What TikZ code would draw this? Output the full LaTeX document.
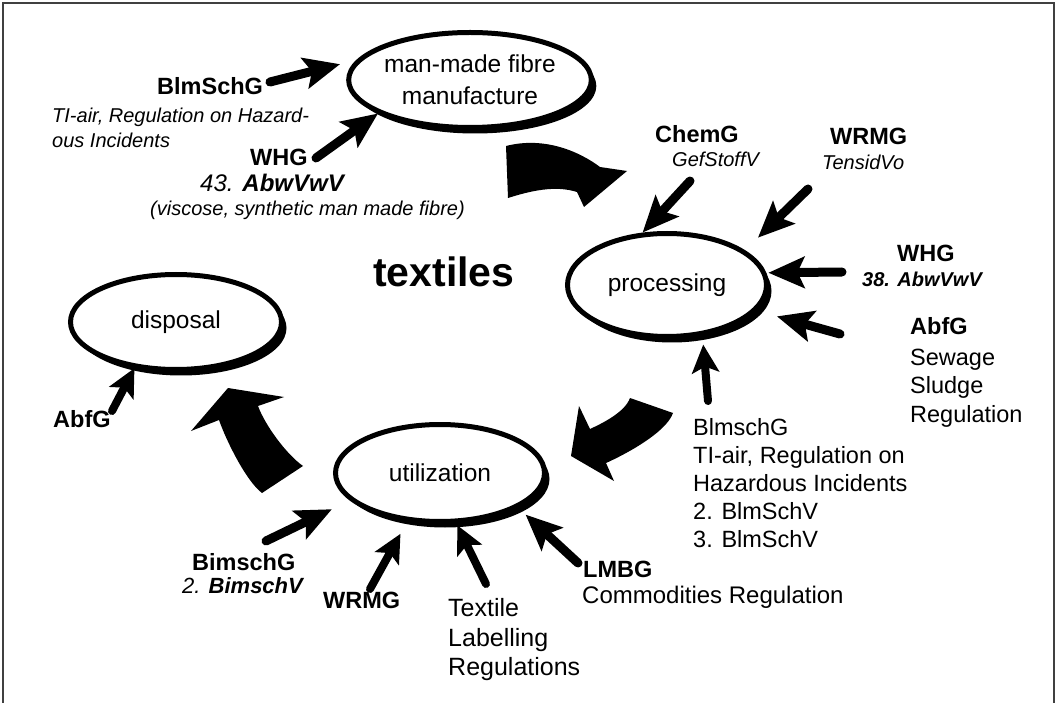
\documentclass[tikz,border=0pt]{standalone}
\usepackage{fontspec}
\setmainfont{Liberation Sans}
\usetikzlibrary{arrows.meta,shapes.geometric,shadows}
\begin{document}
\begin{tikzpicture}[x=1pt,y=-1pt,
  stage/.style={ellipse, draw=black, line width=5pt, fill=white, inner sep=0pt,
    align=center, font=\fontsize{24.5}{32}\selectfont,
    drop shadow={opacity=1, fill=black, shadow xshift=5pt, shadow yshift=-6pt}},
  law/.style={inner sep=0pt, anchor=base west, font=\fontsize{23.5}{28}\selectfont\bfseries},
  note/.style={inner sep=0pt, anchor=base west, font=\fontsize{20}{25}\selectfont\itshape},
  plain/.style={inner sep=0pt, anchor=base west, font=\fontsize{23.5}{28}\selectfont},
  reg/.style={line width=9pt, line cap=round, -{Stealth[length=36pt,width=31pt,inset=7pt]}},
  short reg/.style={line width=8pt, line cap=round, -{Stealth[length=28pt,width=27pt,inset=6pt]}},
  flow/.style={fill=black}
]
\useasboundingbox (0,0) rectangle (1058,703);
% frame, open at the bottom
\draw[line width=1.3pt, black!75] (3,703) -- (3,3) -- (1054,3) -- (1054,703);

% life-cycle stages
\node[stage, minimum width=229pt, minimum height=95pt] (pm) at (470,80) {man-made fibre\\manufacture};
\node[stage, minimum width=199pt, minimum height=103pt] (proc) at (667,285) {processing};
\node[stage, minimum width=209pt, minimum height=97pt] (util) at (440,473) {utilization};
\node[stage, minimum width=211pt, minimum height=95pt] (disp) at (176,322) {disposal};

\node[inner sep=0pt, anchor=base west, font=\fontsize{41}{48}\selectfont\bfseries] (title) at (373,287) {textiles};

% big curved flow arrows between the stages
\fill[flow] (506,146) .. controls (545,136) and (580,152) .. (600,167) -- (627,171) -- (584,207) -- (577,192)
  .. controls (555,185) and (530,191) .. (508,198) -- cycle;
\fill[flow] (630,398) -- (673,413) .. controls (666,433) and (624,455) .. (606,463) -- (614,481) -- (571,456)
  -- (579,406) -- (590,429) .. controls (603,423) and (625,412) .. (630,398) -- cycle;
\fill[flow] (228,388) -- (284,397) -- (258,406) .. controls (265,425) and (286,454) .. (303,466) -- (262,493)
  .. controls (246,481) and (226,440) .. (219,420) -- (191,431) -- cycle;

% man-made fibre manufacture
\node[law] (a1) at (157,95) {BlmSchG};
\node[note] (a1b) at (52,123) {TI-air, Regulation on Hazard-};
\node[note] (a1c) at (52,148) {ous Incidents};
\node[law] (a2) at (250,166) {WHG};
\node[note, font=\fontsize{24}{28}\selectfont\itshape] (a2b) at (200,192) {43. \bfseries AbwVwV};
\node[note] (a2c) at (150,216) {(viscose, synthetic man made fibre)};
\coordinate (ta1) at (270,82);
\coordinate (ta2) at (316,158);
\draw[reg, shorten >=17pt] (ta1) -- (pm.170);
\draw[reg] (ta2) -- (pm.200);

% processing
\node[law] (b1) at (655,143) {ChemG};
\node[note] (b1b) at (672,167) {GefStoffV};
\node[law] (b2) at (830,145) {WRMG};
\node[note] (b2b) at (822,170) {TensidVo};
\node[law] (b3) at (897,262) {WHG};
\node[note, font=\fontsize{20}{25}\selectfont\bfseries\itshape] (b3b) at (862,287) {38. AbwVwV};
\node[law] (b4) at (910,335) {AbfG};
\node[plain] (b4b) at (910,366) {Sewage};
\node[plain] (b4c) at (910,394) {Sludge};
\node[plain] (b4d) at (910,422) {Regulation};
\node[plain] (b5) at (693,435) {BlmschG};
\node[plain] (b5b) at (693,463) {TI-air, Regulation on};
\node[plain] (b5c) at (693,491) {Hazardous Incidents};
\node[plain] (b5d) at (693,519) {2. BlmSchV};
\node[plain] (b5e) at (693,547) {3. BlmSchV};
\coordinate (tb1) at (690,181);
\coordinate (tb2) at (808,189);
\coordinate (tb3) at (842,272);
\coordinate (tb4) at (840,334);
\coordinate (tb5) at (708,401);
\draw[reg] (tb1) -- (proc.115);
\draw[reg, shorten >=18pt] (tb2) -- (proc.24);
\draw[reg, shorten >=2pt] (tb3) -- (proc.7);
\draw[reg, shorten >=21pt] (tb4) -- (proc.-16);
\draw[short reg, shorten >=9pt] (tb5) -- (proc.-55);

% utilization
\node[law] (c1) at (192,570) {BimschG};
\node[note, font=\fontsize{22}{26}\selectfont\itshape] (c1b) at (182,593) {2. \bfseries BimschV};
\node[law] (c2) at (323,608) {WRMG};
\node[plain, font=\fontsize{25}{30}\selectfont] (c3) at (448,616) {Textile};
\node[plain, font=\fontsize{25}{30}\selectfont] (c3b) at (448,646) {Labelling};
\node[plain, font=\fontsize{25}{30}\selectfont] (c3c) at (448,675) {Regulations};
\node[law] (c4) at (583,577) {LMBG};
\node[plain, font=\fontsize{24}{28}\selectfont] (c4b) at (582,603) {Commodities Regulation};
\coordinate (tc1) at (266,541);
\coordinate (tc2) at (370,589);
\coordinate (tc3) at (486,584);
\coordinate (tc4) at (578,563);
\draw[reg, shorten >=20pt] (tc1) -- (util.-163);
\draw[short reg, shorten >=14pt] (tc2) -- (util.-124);
\draw[short reg, shorten >=2pt] (tc3) -- (util.-72);
\draw[reg, shorten >=10pt] (tc4) -- (util.-24);

% disposal
\node[law] (d1) at (53,428) {AbfG};
\coordinate (td1) at (112,411);
\draw[short reg] (td1) -- (disp.-132);
\end{tikzpicture}
\end{document}
